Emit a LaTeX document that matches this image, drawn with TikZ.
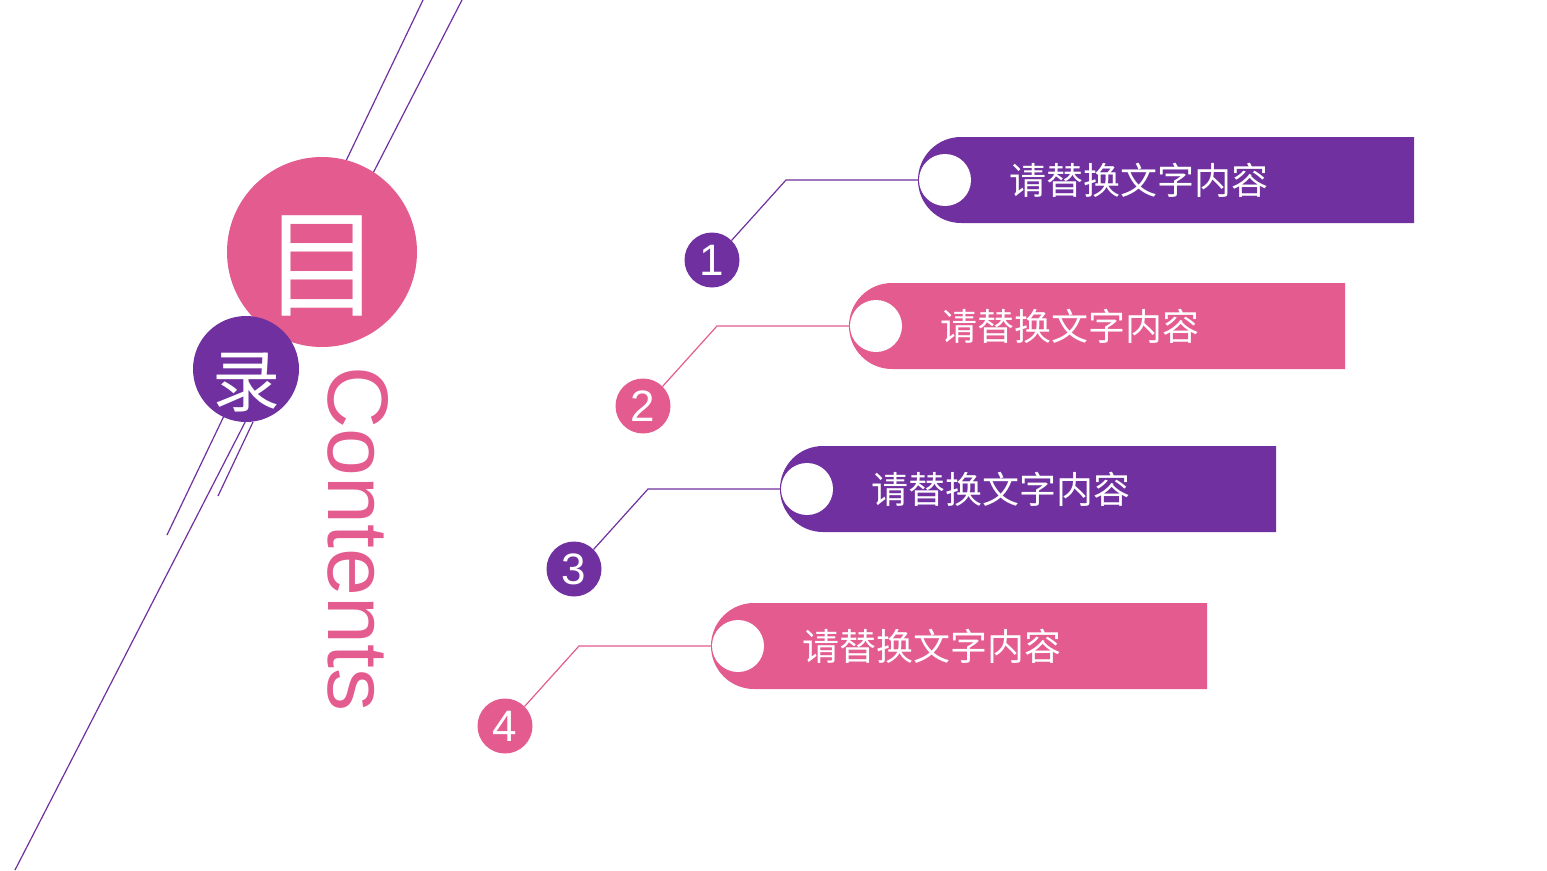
\documentclass[tikz,border=0pt]{standalone}
\usepackage{fontspec}
\setmainfont{Liberation Sans}
\newfontfamily\cjk{Noto Sans CJK SC}
\definecolor{zpurple}{HTML}{7030A0}
\definecolor{zpink}{HTML}{E35B8F}
\tikzset{
  num/.style={circle, minimum size=55pt, inner sep=0pt, text=white, font=\fontsize{44}{44}\selectfont},
  hole/.style={circle, fill=white, minimum size=52pt, inner sep=0pt},
  tab text/.style={text=white, anchor=west, font=\cjk\fontsize{37}{37}\selectfont},
  guide/.style={zpurple, line width=1.2pt},
}
\begin{document}
\begin{tikzpicture}[x=1pt,y=-1pt]
\useasboundingbox (0,0) rectangle (1547,870);

% diagonal lines
\draw[guide] (423,0) -- (167,535);
\draw[guide] (462,0) -- (15,870);
\draw[guide] (253,422) -- (218,496);

% title
\node[circle, fill=zpink, minimum size=190pt, inner sep=0pt] (mu) at (322,252) {};
\node[text=white, font=\cjk\fontsize{118}{118}\selectfont] (mutext) at (322,266) {目};
\node[circle, fill=zpurple, minimum size=106pt, inner sep=0pt] (lu) at (246,369) {};
\node[text=white, font=\cjk\fontsize{68}{68}\selectfont] (lutext) at (246,382) {录};
\node[rotate=-90, text=zpink, anchor=north, inner sep=0pt,
      font=\fontsize{86}{86}\selectfont] (contents) at (389,539) {Contents};

% tabs
\foreach \i/\x/\y/\c in {1/918/180/zpurple, 2/849/326/zpink, 3/780/489/zpurple, 4/711/646/zpink} {
  \fill[\c] (\x+43,\y-43) -- (\x+496,\y-43) -- (\x+496,\y+43) -- (\x+43,\y+43)
            arc[start angle=270, end angle=90, radius=43pt] -- cycle;
  \node[hole] (h\i) at (\x+27,\y) {};
  \node[tab text] (t\i) at (\x+88,\y) {请替换文字内容};
  \coordinate (k\i) at (\x-132,\y);
  \node[num, fill=\c] (n\i) at (\x-206,\y+80) {\i};
  \draw[\c, line width=1.2pt] (n\i.45) -- (k\i) -- (h\i.west);
}
\end{tikzpicture}
\end{document}
